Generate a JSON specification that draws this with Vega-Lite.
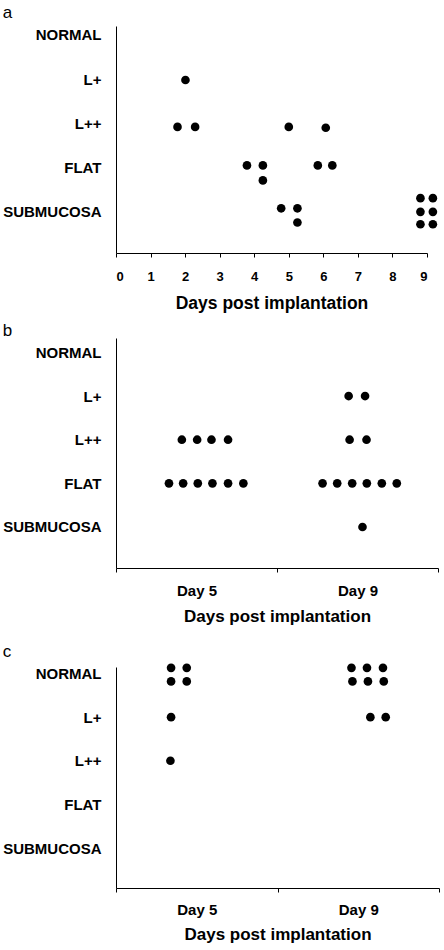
{
  "$schema": "https://vega.github.io/schema/vega-lite/v6.json",
  "padding": {"left": 2, "top": 4, "right": 2, "bottom": 2},
  "background": "white",
  "spacing": 10,
  "config": {
    "view": {"stroke": null},
    "font": "Liberation Sans",
    "title": {"fontSize": 17, "fontWeight": "normal", "color": "black", "anchor": "start", "font": "Liberation Sans"},
    "axis": {
      "domainColor": "black", "domainWidth": 1, "tickColor": "black", "tickSize": 4, "grid": false,
      "labelColor": "black", "titleColor": "black", "labelFont": "Liberation Sans", "titleFont": "Liberation Sans",
      "labelFontWeight": "bold", "titleFontWeight": "bold"
    },
    "axisY": {"ticks": false, "labelPadding": 15, "labelFontSize": 15, "title": null,
      "labelExpr": "datum.value == 5 ? 'NORMAL' : datum.value == 4 ? 'L+\u00a0\u00a0' : datum.value == 3 ? 'L++' : datum.value == 2 ? 'FLAT' : 'SUBMUCOSA'"}
  },
  "datasets": {
    "a": [
      {"grade": "L+", "day": 2.01, "level": 3.98},
      {"grade": "L++", "day": 1.78, "level": 2.92},
      {"grade": "L++", "day": 2.29, "level": 2.92},
      {"grade": "L++", "day": 5.0, "level": 2.92},
      {"grade": "L++", "day": 6.07, "level": 2.9},
      {"grade": "FLAT", "day": 3.79, "level": 2.05},
      {"grade": "FLAT", "day": 4.25, "level": 2.05},
      {"grade": "FLAT", "day": 4.25, "level": 1.71},
      {"grade": "FLAT", "day": 5.84, "level": 2.05},
      {"grade": "FLAT", "day": 6.26, "level": 2.05},
      {"grade": "SUBMUCOSA", "day": 4.78, "level": 1.08},
      {"grade": "SUBMUCOSA", "day": 5.25, "level": 1.08},
      {"grade": "SUBMUCOSA", "day": 5.25, "level": 0.76},
      {"grade": "SUBMUCOSA", "day": 8.81, "level": 1.31},
      {"grade": "SUBMUCOSA", "day": 9.17, "level": 1.31},
      {"grade": "SUBMUCOSA", "day": 8.81, "level": 1.0},
      {"grade": "SUBMUCOSA", "day": 9.17, "level": 1.0},
      {"grade": "SUBMUCOSA", "day": 8.81, "level": 0.72},
      {"grade": "SUBMUCOSA", "day": 9.17, "level": 0.72}
    ],
    "b": [
      {"day": "Day 9", "grade": "L+", "pos": 1.445, "level": 4},
      {"day": "Day 9", "grade": "L+", "pos": 1.547, "level": 4},
      {"day": "Day 5", "grade": "L++", "pos": 0.409, "level": 3},
      {"day": "Day 5", "grade": "L++", "pos": 0.504, "level": 3},
      {"day": "Day 5", "grade": "L++", "pos": 0.593, "level": 3},
      {"day": "Day 5", "grade": "L++", "pos": 0.696, "level": 3},
      {"day": "Day 9", "grade": "L++", "pos": 1.451, "level": 3},
      {"day": "Day 9", "grade": "L++", "pos": 1.556, "level": 3},
      {"day": "Day 5", "grade": "FLAT", "pos": 0.329, "level": 2},
      {"day": "Day 5", "grade": "FLAT", "pos": 0.417, "level": 2},
      {"day": "Day 5", "grade": "FLAT", "pos": 0.508, "level": 2},
      {"day": "Day 5", "grade": "FLAT", "pos": 0.599, "level": 2},
      {"day": "Day 5", "grade": "FLAT", "pos": 0.696, "level": 2},
      {"day": "Day 5", "grade": "FLAT", "pos": 0.791, "level": 2},
      {"day": "Day 9", "grade": "FLAT", "pos": 1.283, "level": 2},
      {"day": "Day 9", "grade": "FLAT", "pos": 1.374, "level": 2},
      {"day": "Day 9", "grade": "FLAT", "pos": 1.467, "level": 2},
      {"day": "Day 9", "grade": "FLAT", "pos": 1.558, "level": 2},
      {"day": "Day 9", "grade": "FLAT", "pos": 1.651, "level": 2},
      {"day": "Day 9", "grade": "FLAT", "pos": 1.744, "level": 2},
      {"day": "Day 9", "grade": "SUBMUCOSA", "pos": 1.531, "level": 1}
    ],
    "c": [
      {"day": "Day 5", "grade": "NORMAL", "pos": 0.341, "level": 5.13},
      {"day": "Day 5", "grade": "NORMAL", "pos": 0.438, "level": 5.13},
      {"day": "Day 5", "grade": "NORMAL", "pos": 0.341, "level": 4.82},
      {"day": "Day 5", "grade": "NORMAL", "pos": 0.438, "level": 4.82},
      {"day": "Day 9", "grade": "NORMAL", "pos": 1.458, "level": 5.13},
      {"day": "Day 9", "grade": "NORMAL", "pos": 1.554, "level": 5.13},
      {"day": "Day 9", "grade": "NORMAL", "pos": 1.653, "level": 5.13},
      {"day": "Day 9", "grade": "NORMAL", "pos": 1.464, "level": 4.82},
      {"day": "Day 9", "grade": "NORMAL", "pos": 1.56, "level": 4.82},
      {"day": "Day 9", "grade": "NORMAL", "pos": 1.658, "level": 4.82},
      {"day": "Day 5", "grade": "L+", "pos": 0.341, "level": 4},
      {"day": "Day 9", "grade": "L+", "pos": 1.575, "level": 4},
      {"day": "Day 9", "grade": "L+", "pos": 1.67, "level": 4},
      {"day": "Day 5", "grade": "L++", "pos": 0.337, "level": 3}
    ]
  },
  "vconcat": [
    {
      "title": {"text": "a", "offset": 4},
      "width": 311, "height": 227,
      "data": {"name": "a"},
      "mark": {"type": "circle", "size": 75, "color": "black", "opacity": 1},
      "encoding": {
        "x": {"field": "day", "type": "quantitative",
          "scale": {"domain": [0, 9], "nice": false, "zero": false},
          "axis": {"values": [0, 1, 2, 3, 4, 5, 6, 7, 8, 9], "title": "Days post implantation", "labelFontSize": 13, "labelPadding": 13, "titleFontSize": 17.5, "titlePadding": 11}},
        "y": {"field": "level", "type": "quantitative",
          "scale": {"domain": [0.07, 5.2], "nice": false, "zero": false},
          "axis": {"values": [1, 2, 3, 4, 5]}}
      }
    },
    {
      "spacing": 18,
      "vconcat": [
        {
          "title": {"text": "b", "offset": -2},
          "width": 322, "height": 230,
          "data": {"name": "b"},
          "mark": {"type": "circle", "size": 75, "color": "black", "opacity": 1},
          "encoding": {
            "x": {"field": "pos", "type": "quantitative",
              "scale": {"domain": [0, 2], "nice": false, "zero": false},
              "axis": {"values": [0, 0.5, 1, 1.5, 2], "title": "Days post implantation",
                "labelExpr": "datum.value == 0.5 ? 'Day 5' : datum.value == 1.5 ? 'Day 9' : ''",
                "tickOpacity": {"condition": {"test": "datum.value == 0.5 || datum.value == 1.5", "value": 0}, "value": 1},
                "labelFontSize": 15, "labelPadding": 11.5, "titleFontSize": 17, "titlePadding": 10}},
            "y": {"field": "level", "type": "quantitative",
              "scale": {"domain": [0.06, 5.33], "nice": false, "zero": false},
              "axis": {"values": [1, 2, 3, 4, 5]}}
          }
        },
        {
          "title": {"text": "c", "offset": 2.5},
          "width": 323, "height": 221,
          "data": {"name": "c"},
          "mark": {"type": "circle", "size": 75, "color": "black", "opacity": 1},
          "encoding": {
            "x": {"field": "pos", "type": "quantitative",
              "scale": {"domain": [0, 2], "nice": false, "zero": false},
              "axis": {"values": [0, 0.5, 1, 1.5, 2], "title": "Days post implantation",
                "labelExpr": "datum.value == 0.5 ? 'Day 5' : datum.value == 1.5 ? 'Day 9' : ''",
                "tickOpacity": {"condition": {"test": "datum.value == 0.5 || datum.value == 1.5", "value": 0}, "value": 1},
                "labelFontSize": 15, "labelPadding": 10, "titleFontSize": 17, "titlePadding": 9.5}},
            "y": {"field": "level", "type": "quantitative",
              "scale": {"domain": [0.083, 5.15], "nice": false, "zero": false},
              "axis": {"values": [1, 2, 3, 4, 5]}}
          }
        }
      ]
    }
  ]
}
